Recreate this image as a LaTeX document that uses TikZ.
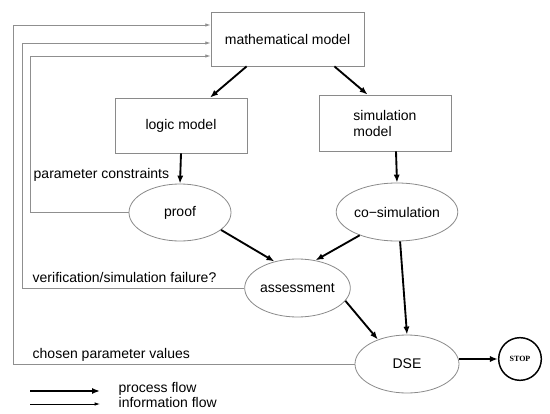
\documentclass[tikz,border=0pt]{standalone}
\usepackage{fontspec}
\setmainfont{Liberation Sans}
\newfontfamily\stopfont{Liberation Serif}
\usetikzlibrary{arrows.meta, positioning, calc, shapes.geometric}
\definecolor{boxgray}{HTML}{8A8A8A}
\definecolor{infogray}{HTML}{8F8F8F}

\begin{document}
\begin{tikzpicture}[x=0.75pt, y=-0.75pt, font=\fontsize{10.5}{12}\selectfont,
  modelbox/.style={draw=boxgray, line width=0.6pt, rectangle, inner sep=2pt},
  taskoval/.style={draw=boxgray, line width=0.6pt, ellipse, inner sep=0pt},
  processflow/.style={line width=1.4pt, -{Latex[length=6pt, width=4.6pt]}},
  infoflow/.style={draw=infogray, line width=0.6pt, -{Latex[length=4pt, width=2.6pt]}}]
  \useasboundingbox (0,0) rectangle (550,414);

  % models
  \node[modelbox, minimum width=114.75pt, minimum height=40.5pt] (math) at (287.5,39) {mathematical model};
  \node[modelbox, minimum width=99pt, minimum height=41.25pt] (logic) at (181,125.5) {logic model};
  \node[modelbox, minimum width=99pt, minimum height=42pt, align=left] (sim) at (385,123) {simulation\\model};

  % tasks
  \node[taskoval, minimum width=76.5pt, minimum height=42.75pt] (proof) at (180,212.5) {proof};
  \node[taskoval, minimum width=78pt, minimum height=43.5pt] (cosim) at (397,212) {co−simulation};
  \node[taskoval, minimum width=77.25pt, minimum height=43.5pt] (assess) at (297.5,288) {assessment};
  \node[taskoval, minimum width=78pt, minimum height=43.5pt] (dse) at (407,364) {DSE};
  \node[draw, circle, line width=1.1pt, minimum size=32pt, inner sep=0pt, font=\stopfont\bfseries\fontsize{6}{7}\selectfont] (stop) at (520,359) {STOP};

  % process flow
  \draw[processflow] ($(math.south west)+(36,0)$) -- ($(logic.north)+(29,0)$);
  \draw[processflow] ($(math.south east)+(-30,0)$) -- ($(sim.north west)+(49,0)$);
  \draw[processflow] (logic.south) -- (proof.north);
  \draw[processflow] ($(sim.south)+(11,0)$) -- (cosim.north);
  \draw[processflow] (proof.-23) -- (assess.131);
  \draw[processflow] (cosim.212) -- (assess.57);
  \draw[processflow] (cosim.-84) -- (dse.north);
  \draw[processflow] (assess.-15) -- (dse.140);
  \draw[processflow] (dse.east |- stop.west) -- (stop.west);

  % information flow back to the mathematical model
  \draw[infoflow] (dse.west) -| (13,25) -- ([yshift=10.5pt]math.west);
  \draw[infoflow] (assess.west) -| (22,43) -- ([yshift=-3pt]math.west);
  \draw[infoflow] (proof.west) -| (30,56) -- ([yshift=-12.75pt]math.west);
  \node[anchor=west] (constr) at (29,175) {parameter constraints};
  \node[anchor=west] (failure) at (28,277) {verification/simulation failure?};
  \node[anchor=west] (chosen) at (28,355) {chosen parameter values};

  % legend
  \coordinate (procstart) at (30,391);
  \coordinate (infostart) at (30,404);
  \node[anchor=west] (proclabel) at (114,389) {process flow};
  \node[anchor=west] (infolabel) at (114,402) {information flow};
  \draw[processflow] (procstart) -- (100,391);
  \draw[infoflow, draw=black] (infostart) -- (100,404);
\end{tikzpicture}
\end{document}
